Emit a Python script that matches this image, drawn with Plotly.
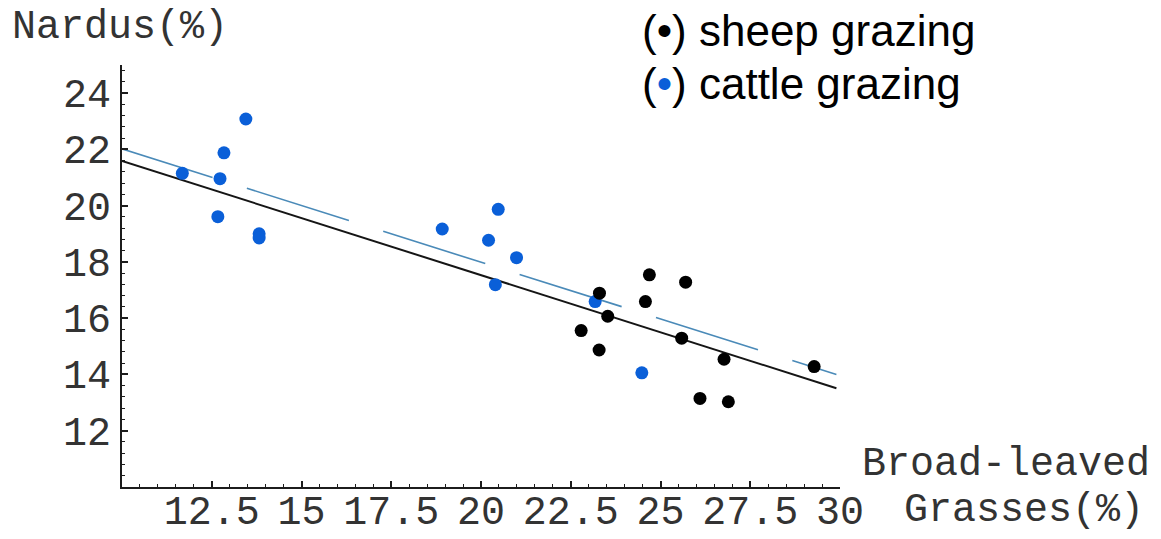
import numpy as np
import plotly.graph_objects as go

# Broad-leaved grasses (%) vs Nardus (%) per plot
sheep_x = [24.69, 25.70, 23.30, 24.58, 23.53, 22.79, 25.59, 23.29, 26.77, 29.28, 26.10, 26.89]
sheep_y = [17.54, 17.28, 16.89, 16.59, 16.07, 15.56, 15.29, 14.87, 14.54, 14.28, 13.15, 13.03]

cattle_x = [11.68, 12.73, 12.84, 13.45, 12.67, 13.82, 13.82, 18.92, 20.48, 20.21, 20.99, 20.40, 23.18, 24.48]
cattle_y = [21.15, 20.96, 21.88, 23.08, 19.61, 19.00, 18.85, 19.17, 19.87, 18.77, 18.15, 17.19, 16.59, 14.06]

# Linear fits: value at x = 10 and slope
solid_fit = {"y10": 21.59, "slope": -0.406, "x": [10.0, 29.9]}
dashed_fit = {"y10": 22.02, "slope": -0.403, "x": [9.68, 29.9]}

x_ticks = [12.5, 15, 17.5, 20, 22.5, 25, 27.5, 30]
x_tick_text = ["12.5", "15", "17.5", "20", "22.5", "25", "27.5", "30"]
y_ticks = [12, 14, 16, 18, 20, 22, 24]

MONO = "Courier New, Liberation Mono, monospace"
SANS = "Arial, Liberation Sans, sans-serif"
INK = "#1c1c1c"
TEXT = "#333333"
BLUE = "#0a5fd8"


def fit_line(fit):
    xs = np.array(fit["x"])
    return xs, fit["y10"] + fit["slope"] * (xs - 10.0)


fig = go.Figure()

sx, sy = fit_line(solid_fit)
fig.add_trace(go.Scatter(x=sx, y=sy, mode="lines",
                         line=dict(color="#151515", width=2), hoverinfo="skip"))
dx, dy = fit_line(dashed_fit)
fig.add_trace(go.Scatter(x=dx, y=dy, mode="lines",
                         line=dict(color="#4a8ab8", width=1.6, dash="107px,36px"),
                         hoverinfo="skip"))

fig.add_trace(go.Scatter(x=cattle_x, y=cattle_y, mode="markers", name="cattle grazing",
                         marker=dict(color=BLUE, size=13, line=dict(width=0))))
fig.add_trace(go.Scatter(x=sheep_x, y=sheep_y, mode="markers", name="sheep grazing",
                         marker=dict(color="#000000", size=13, line=dict(width=0))))

axis_common = dict(
    showline=True, linecolor=INK, linewidth=2, showgrid=False, zeroline=False,
    ticks="inside", ticklen=6, tickwidth=1.5, tickcolor=INK, automargin=False,
    tickfont=dict(family=MONO, size=40, color=TEXT),
)

fig.update_xaxes(
    range=[10, 30], tickmode="array", tickvals=x_ticks, ticktext=x_tick_text,
    minor=dict(dtick=0.5, tick0=0, ticks="inside", ticklen=3, tickcolor=INK, tickwidth=1.2),
    ticklabelstandoff=-13,
    **axis_common,
)
fig.update_yaxes(
    range=[10, 25], tickmode="array", tickvals=y_ticks,
    minor=dict(dtick=0.4, tick0=0, ticks="inside", ticklen=3, tickcolor=INK, tickwidth=1.2),
    ticklabelstandoff=1,
    **axis_common,
)

W, H = 1161, 539
L, R, T, B = 122, 840, 65, 487


def px(xp):
    return (xp - L) / (R - L)


def py(yp):
    return (B - yp) / (B - T)


mono_font = dict(family=MONO, size=40, color=TEXT)
sans_font = dict(family=SANS, size=44, color="#000000")

fig.add_annotation(text="Nardus(%)", xref="paper", yref="paper", x=px(10), y=py(27),
                   xanchor="left", yanchor="middle", showarrow=False, font=mono_font)
fig.add_annotation(text="Broad-leaved", xref="paper", yref="paper", x=px(1152), y=py(464),
                   xanchor="right", yanchor="middle", showarrow=False, font=mono_font)
fig.add_annotation(text="Grasses(%)", xref="paper", yref="paper", x=px(1146), y=py(510),
                   xanchor="right", yanchor="middle", showarrow=False, font=mono_font)

fig.add_annotation(text="(<span style='color:#000000'>•</span>) sheep grazing",
                   xref="paper", yref="paper", x=px(640), y=py(30),
                   xanchor="left", yanchor="middle", showarrow=False, font=sans_font)
fig.add_annotation(text=f"(<span style='color:{BLUE}'>•</span>) cattle grazing",
                   xref="paper", yref="paper", x=px(640), y=py(84),
                   xanchor="left", yanchor="middle", showarrow=False, font=sans_font)

fig.update_layout(
    width=W, height=H,
    margin=dict(l=L, r=W - R, t=T, b=H - B, pad=0, autoexpand=False),
    plot_bgcolor="white", paper_bgcolor="white",
    showlegend=False,
)

fig.write_html("out.html")
